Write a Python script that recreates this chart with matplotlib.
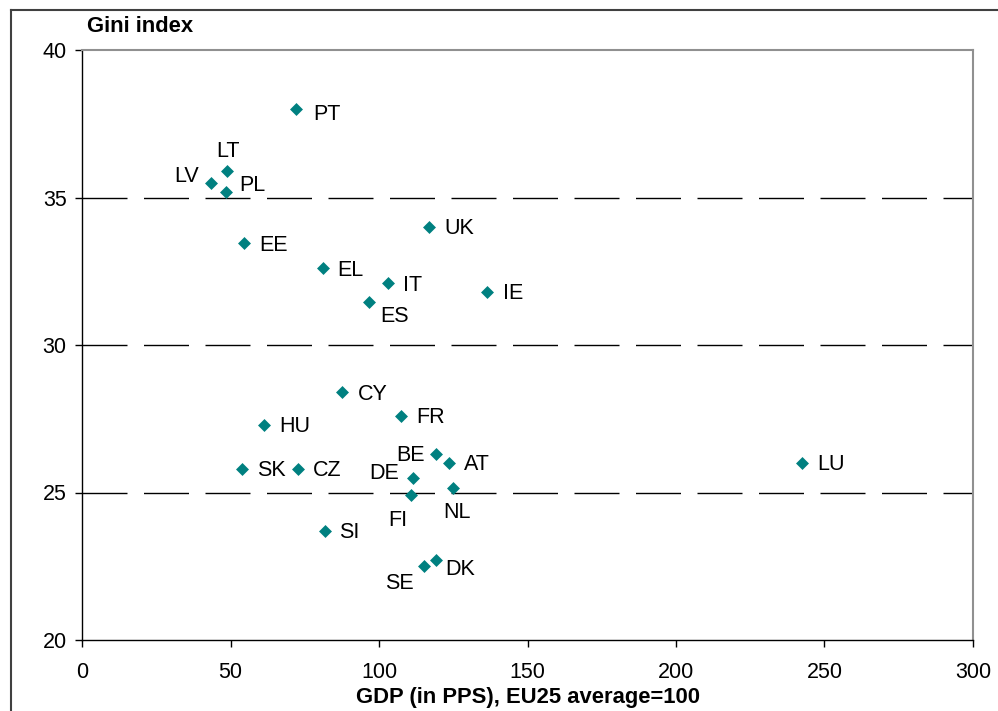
import matplotlib
matplotlib.use("Agg")
import matplotlib.pyplot as plt
from matplotlib.lines import Line2D

plt.rcParams['font.family'] = ['Liberation Sans', 'DejaVu Sans']

countries = ["PT", "LT", "LV", "PL", "EE", "UK", "EL", "IT", "ES", "IE",
             "CY", "FR", "HU", "BE", "AT", "SK", "CZ", "DE", "NL", "FI",
             "SI", "SE", "DK", "LU"]
gdp = [72.0, 48.9, 43.4, 48.5, 54.7, 116.9, 81.0, 103.1, 96.5, 136.4,
       87.7, 107.5, 61.3, 119.2, 123.7, 54.0, 72.8, 111.4, 124.8, 110.9,
       81.7, 115.3, 119.2, 242.4]
gini = [38.0, 35.9, 35.5, 35.2, 33.45, 34.0, 32.6, 32.1, 31.45, 31.8,
        28.4, 27.6, 27.3, 26.3, 26.0, 25.8, 25.8, 25.5, 25.15, 24.9,
        23.7, 22.5, 22.7, 26.0]

# label placement (pixel offsets dx, dy[up], ha)
label_pos = {
    "PT": (17, -6, "left"), "LT": (1, 19, "center"), "LV": (-12, 6, "right"),
    "PL": (13, 6, "left"), "EE": (15, -2, "left"), "UK": (15, -1, "left"),
    "EL": (15, -2, "left"), "IT": (15, -2, "left"), "ES": (12, -14, "left"),
    "IE": (16, -2, "left"), "CY": (15, -2, "left"), "FR": (15, -2, "left"),
    "HU": (15, -2, "left"), "BE": (-11, -1, "right"), "AT": (15, -2, "left"),
    "SK": (15, -2, "left"), "CZ": (15, -2, "left"), "DE": (-14, 4, "right"),
    "NL": (4, -24, "center"), "FI": (-14, -25, "center"), "SI": (14, -2, "left"),
    "SE": (-11, -17, "right"), "DK": (9, -9, "left"), "LU": (15, -2, "left"),
}

W, H = 998, 711
FS = 15.5
FSB = 15.8
fig = plt.figure(figsize=(W / 100, H / 100), dpi=100)
ax = fig.add_axes([82 / W, 1 - 640 / H, (973 - 82) / W, (640 - 50) / H])

ax.scatter(gdp, gini, marker="D", s=6.6 ** 2, color="#008080", zorder=3, linewidths=0)

px = 0.72
for c, x, y in zip(countries, gdp, gini):
    dx, dy, ha = label_pos[c]
    ax.annotate(c, (x, y), xytext=(dx * px, dy * px), textcoords="offset points",
                ha=ha, va="center", fontsize=FS, color="black")

ax.set_xlim(0, 300)
ax.set_ylim(20, 40)
ax.set_xticks([0, 50, 100, 150, 200, 250, 300])
ax.set_yticks([20, 25, 30, 35, 40])
for yv in [25, 30, 35]:
    ax.axhline(yv, color="black", lw=1.0, dashes=(45 * px, 16.5 * px), zorder=1)

ax.tick_params(axis="both", direction="out", length=5, width=1, labelsize=FS, color="black")
ax.tick_params(axis="y", pad=6)
ax.tick_params(axis="x", pad=10.5)
for s in ["left", "bottom"]:
    ax.spines[s].set_color("black")
    ax.spines[s].set_linewidth(1.0)
for s in ["top", "right"]:
    ax.spines[s].set_color("#909090")
    ax.spines[s].set_linewidth(1.5)

ax.set_xlabel("GDP (in PPS), EU25 average=100", fontsize=FSB, fontweight="bold", labelpad=3)
fig.text(87 / W, 1 - 27 / H, "Gini index", fontsize=FSB, fontweight="bold", ha="left", va="center")

# outer frame
fig.add_artist(Line2D([11 / W, 11 / W], [0, 1 - 10 / H], transform=fig.transFigure, color="#404040", lw=1.5))
fig.add_artist(Line2D([11 / W, 1], [1 - 10 / H, 1 - 10 / H], transform=fig.transFigure, color="#404040", lw=1.5))

fig.savefig("out.png", dpi=100)
